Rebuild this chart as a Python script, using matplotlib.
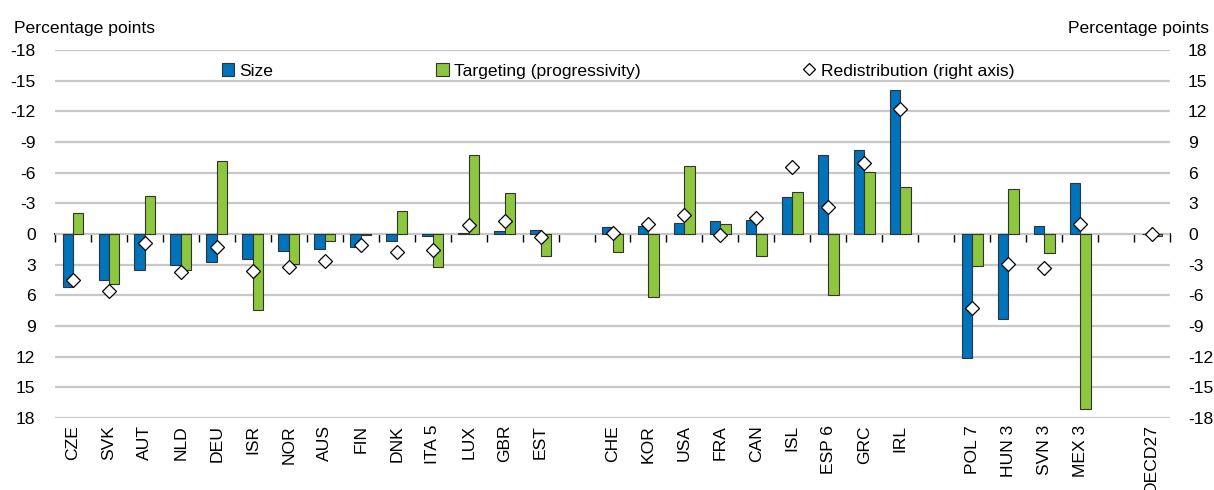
import numpy as np
import matplotlib
matplotlib.use("Agg")
import matplotlib.pyplot as plt
from matplotlib.patches import Patch
from matplotlib.lines import Line2D

plt.rcParams['font.family'] = ['Liberation Sans', 'DejaVu Sans']
plt.rcParams['axes.unicode_minus'] = False

# Country groups (a blank slot separates consecutive groups)
group_a = ["CZE", "SVK", "AUT", "NLD", "DEU", "ISR", "NOR", "AUS", "FIN", "DNK",
           "ITA 5", "LUX", "GBR", "EST"]
group_b = ["CHE", "KOR", "USA", "FRA", "CAN", "ISL", "ESP 6", "GRC", "IRL"]
group_c = ["POL 7", "HUN 3", "SVN 3", "MEX 3"]
group_d = ["OECD27"]

# Left axis (inverted): contribution of size and targeting
size = [5.2, 4.5, 3.5, 3.0, 2.7, 2.4, 1.7, 1.5, 1.25, 0.7,
        0.2, -0.1, -0.3, -0.4,
        -0.7, -0.8, -1.1, -1.3, -1.4, -3.6, -7.7, -8.2, -14.1,
        12.1, 8.3, -0.8, -5.0,
        0.0]
targeting = [-2.1, 4.9, -3.7, 3.5, -7.1, 7.4, 2.9, 0.65, 0.05, -2.25,
             3.2, -7.7, -4.0, 2.15,
             1.8, 6.2, -6.7, -1.0, 2.2, -4.1, 6.0, -6.1, -4.6,
             3.1, -4.4, 1.9, 17.1,
             0.2]
# Right axis: redistribution
redistribution = [-4.5, -5.6, -0.9, -3.7, -1.3, -3.6, -3.2, -2.6, -1.1, -1.8,
                  -1.6, 0.9, 1.3, -0.3,
                  0.1, 1.0, 1.9, -0.1, 1.6, 6.6, 2.6, 6.9, 12.2,
                  -7.2, -2.9, -3.3, 1.0,
                  0.0]

left_ticks = list(range(-18, 19, 3))
right_ticks = list(range(-18, 19, 3))

BLUE = "#0073BD"
GREEN = "#8DC63F"
EDGE = "#333333"
GRID = "#C8C8C8"
FS = 12.6

# slot positions: one empty slot between groups
groups = [group_a, group_b, group_c, group_d]
categories, pos = [], []
slot = 0
for g in groups:
    for name in g:
        categories.append(name)
        pos.append(slot)
        slot += 1
    slot += 1
n_slots = slot - 1
pos = np.array(pos, dtype=float)

fig = plt.figure(figsize=(12.14, 4.90), dpi=100)
ax = fig.add_axes([55 / 1214, 1 - 418 / 490, (1170 - 55) / 1214, (418 - 50) / 490])

w = 0.29
ax.bar(pos - w / 2, size, width=w, color=BLUE, edgecolor=EDGE, linewidth=0.8, zorder=3)
ax.bar(pos + w / 2, targeting, width=w, color=GREEN, edgecolor=EDGE, linewidth=0.8, zorder=3)

ax.set_xlim(-0.5, n_slots - 0.5)
ax.set_ylim(18, -18)
ax.set_yticks(left_ticks)
ax.set_yticklabels([str(t) for t in left_ticks])
ax.yaxis.grid(True, color=GRID, linewidth=1.6, zorder=0)
ax.set_axisbelow(True)
for s in ax.spines.values():
    s.set_visible(False)
ax.tick_params(axis='y', length=0, labelsize=FS, pad=14)
ax.set_xticks(pos)
ax.set_xticklabels(categories, rotation=90, fontsize=FS, va='top', ha='center')
ax.tick_params(axis='x', length=0, pad=5)

# zero line with slot-boundary ticks
zero = ax.secondary_xaxis(0.5)
zero.set_xticks(np.arange(-0.5, n_slots, 1.0))
zero.tick_params(direction='in', length=6, width=1.0, color='black',
                 labeltop=False, labelbottom=False)
for s in zero.spines.values():
    s.set_linewidth(1.3)
    s.set_color('black')

ax2 = ax.twinx()
ax2.set_ylim(-18, 18)
ax2.set_yticks(right_ticks)
ax2.set_yticklabels([str(t) for t in right_ticks])
ax2.tick_params(axis='y', length=0, labelsize=FS, pad=13)
for s in ax2.spines.values():
    s.set_visible(False)
ax2.plot(pos, redistribution, linestyle='none', marker='D', markersize=7,
         markerfacecolor='white', markeredgecolor='black', markeredgewidth=0.9, zorder=5)

fig.text(14 / 1214, 1 - 33 / 490, "Percentage points", fontsize=FS, ha='left', va='baseline')
fig.text(1209 / 1214, 1 - 33 / 490, "Percentage points", fontsize=FS, ha='right', va='baseline')

handles = [
    Patch(facecolor=BLUE, edgecolor=EDGE, linewidth=0.8),
    Patch(facecolor=GREEN, edgecolor=EDGE, linewidth=0.8),
    Line2D([], [], linestyle='none', marker='D', markersize=6,
           markerfacecolor='white', markeredgecolor='black', markeredgewidth=0.9),
]
labels = ["Size", "Targeting (progressivity)", "Redistribution (right axis)"]
fig.legend(handles, labels, loc='center left', bbox_to_anchor=(222 / 1214, 1 - 71 / 490),
           ncol=3, frameon=False, fontsize=FS, handlelength=0.7, handleheight=0.7,
           handletextpad=0.3, columnspacing=9.3, borderaxespad=0, borderpad=0)

fig.savefig("out.png", dpi=100)
